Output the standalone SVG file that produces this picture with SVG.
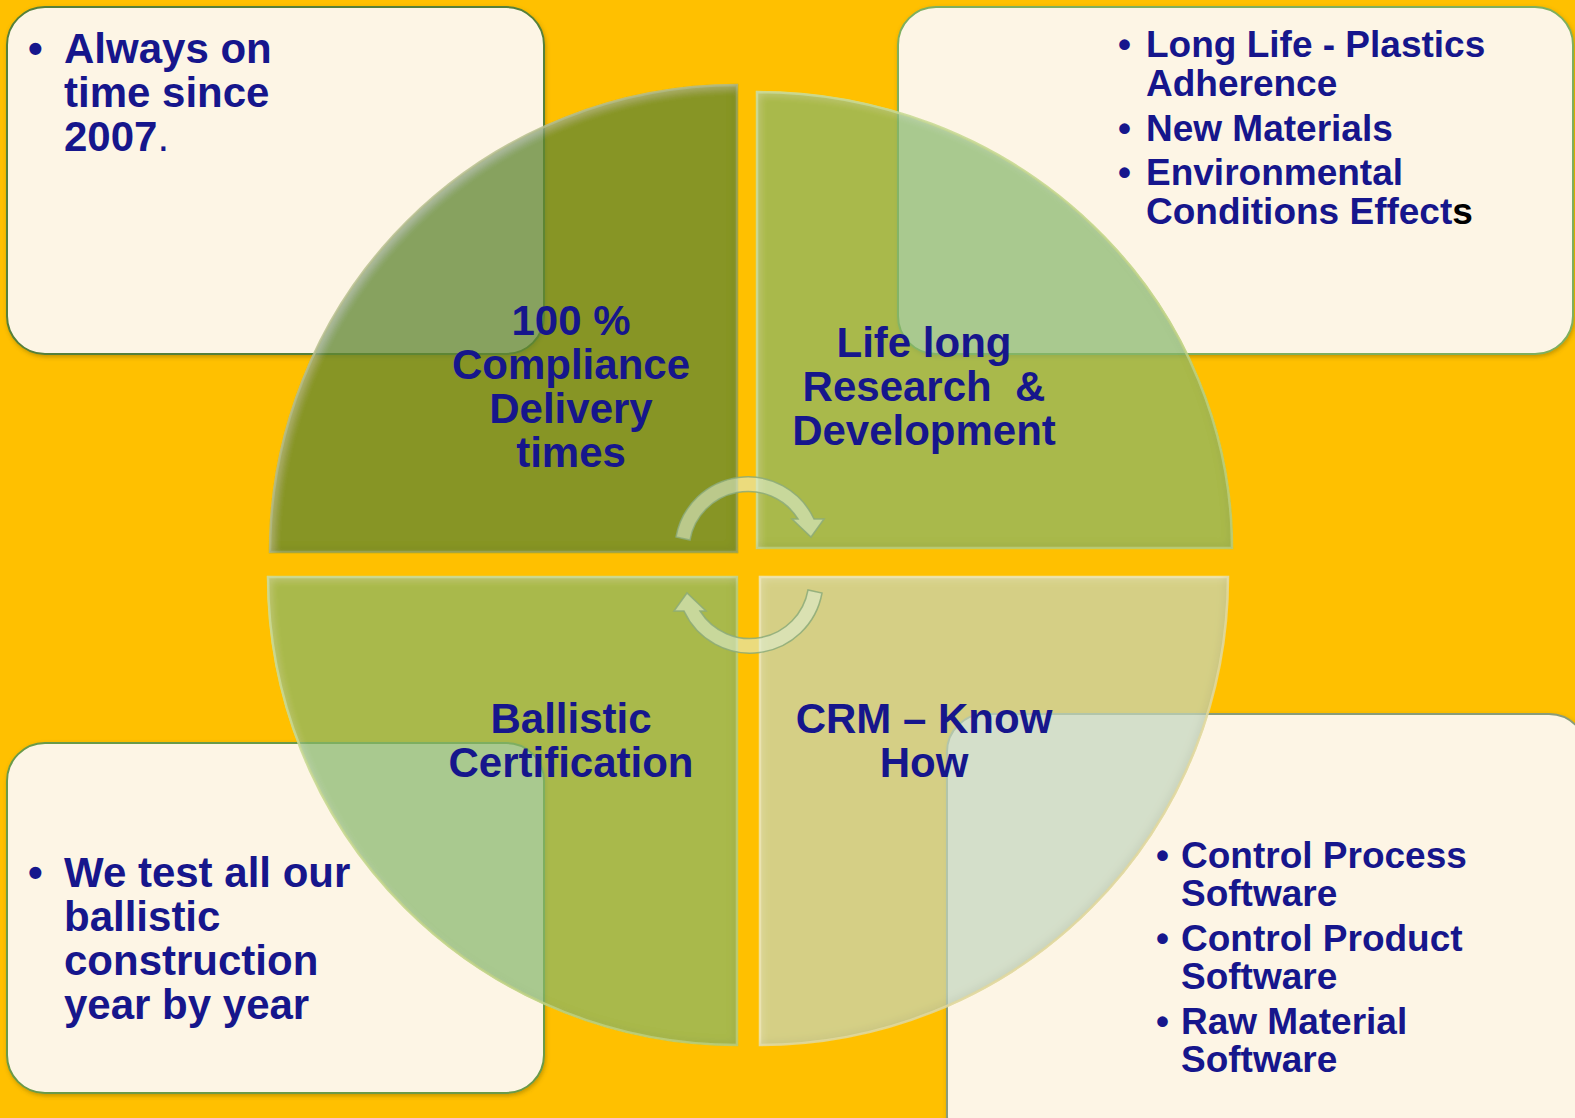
<svg xmlns="http://www.w3.org/2000/svg" width="1575" height="1118" viewBox="0 0 1575 1118">
  <style>
    text { font-family: "Liberation Sans", Arial, sans-serif; font-weight: bold; fill: #16168C; }
    .q { font-size: 42px; text-anchor: middle; }
    .b42 { font-size: 42px; }
    .b37 { font-size: 37px; }
    .box { fill: #FDF5E5; stroke-width: 2; filter: url(#sh); }
    .quad { stroke-width: 2.5; filter: url(#bevel); }
    .arrow { fill: rgba(222,236,208,0.6); stroke: rgba(140,170,120,0.85); stroke-width: 1.5; }
  </style>
  <defs>
    <filter id="sh" x="-5%" y="-5%" width="110%" height="112%">
      <feDropShadow dx="1" dy="2" stdDeviation="2" flood-color="#5a4a00" flood-opacity="0.35"/>
    </filter>
    <filter id="bevel" x="-2%" y="-2%" width="104%" height="104%">
      <feGaussianBlur in="SourceAlpha" stdDeviation="5" result="b"/>
      <feOffset in="b" dx="4" dy="4" result="bo"/>
      <feComposite in="SourceAlpha" in2="bo" operator="arithmetic" k2="1" k3="-1" result="hl"/>
      <feOffset in="b" dx="-4" dy="-4" result="bo2"/>
      <feComposite in="SourceAlpha" in2="bo2" operator="arithmetic" k2="1" k3="-1" result="sd"/>
      <feFlood flood-color="#ffffff" flood-opacity="0.3"/>
      <feComposite in2="hl" operator="in" result="hl2"/>
      <feFlood flood-color="#3a3000" flood-opacity="0.2"/>
      <feComposite in2="sd" operator="in" result="sd2"/>
      <feMerge><feMergeNode in="SourceGraphic"/><feMergeNode in="hl2"/><feMergeNode in="sd2"/></feMerge>
    </filter>
  </defs>
  <rect x="0" y="0" width="1575" height="1118" fill="#FFC000"/>

  <g id="box-tl">
    <rect class="box" x="7" y="7" width="537" height="347" rx="38" stroke="#55803A"/>
    <text class="b42"><tspan x="28" y="63">•</tspan><tspan x="64" y="63">Always on</tspan><tspan x="64" y="107">time since</tspan><tspan x="64" y="151">2007<tspan font-weight="normal">.</tspan></tspan></text>
  </g>
  <g id="box-tr">
    <rect class="box" x="898" y="7" width="675" height="347" rx="38" stroke="#7EAF5E"/>
    <text class="b37"><tspan x="1118" y="57">•</tspan><tspan x="1146" y="57">Long Life - Plastics</tspan><tspan x="1146" y="96">Adherence</tspan><tspan x="1118" y="141">•</tspan><tspan x="1146" y="141">New Materials</tspan><tspan x="1118" y="185">•</tspan><tspan x="1146" y="185">Environmental</tspan><tspan x="1146" y="224">Conditions Effect<tspan fill="#000000">s</tspan></tspan></text>
  </g>
  <g id="box-bl">
    <rect class="box" x="7" y="743" width="537" height="350" rx="38" stroke="#6A9A4A"/>
    <text class="b42"><tspan x="28" y="887">•</tspan><tspan x="64" y="887">We test all our</tspan><tspan x="64" y="931">ballistic</tspan><tspan x="64" y="975">construction</tspan><tspan x="64" y="1019">year by year</tspan></text>
  </g>
  <g id="box-br">
    <rect class="box" x="947" y="714" width="640" height="440" rx="38" stroke="#8A9C7A"/>
    <text class="b37"><tspan x="1156" y="868">•</tspan><tspan x="1181" y="868">Control Process</tspan><tspan x="1181" y="906">Software</tspan><tspan x="1156" y="951">•</tspan><tspan x="1181" y="951">Control Product</tspan><tspan x="1181" y="989">Software</tspan><tspan x="1156" y="1034">•</tspan><tspan x="1181" y="1034">Raw Material</tspan><tspan x="1181" y="1072">Software</tspan></text>
  </g>

  <g id="quad-tl">
    <path class="quad" d="M737,552 L270,552 A467,467 0 0 1 737,85 Z" fill="rgba(95,135,49,0.75)" stroke="rgba(150,165,60,0.8)"/>
    <text class="q"><tspan x="571" y="335">100 %</tspan><tspan x="571" y="379">Compliance</tspan><tspan x="571" y="423">Delivery</tspan><tspan x="571" y="467">times</tspan></text>
  </g>
  <g id="quad-tr">
    <path class="quad" d="M757,548 L757,92 A475,456 0 0 1 1232,548 Z" fill="rgba(132,183,107,0.7)" stroke="rgba(190,215,110,0.85)"/>
    <text class="q" xml:space="preserve"><tspan x="924" y="357">Life long</tspan><tspan x="924" y="401">Research  &amp;</tspan><tspan x="924" y="445">Development</tspan></text>
  </g>
  <g id="quad-bl">
    <path class="quad" d="M737,577 L737,1045 A469,468 0 0 1 268,577 Z" fill="rgba(132,183,107,0.7)" stroke="rgba(190,215,110,0.85)"/>
    <text class="q"><tspan x="571" y="733">Ballistic</tspan><tspan x="571" y="777">Certification</tspan></text>
  </g>
  <g id="quad-br">
    <path class="quad" d="M760,577 L1228,577 A468,468 0 0 1 760,1045 Z" fill="rgba(195,213,190,0.7)" stroke="rgba(240,230,160,0.85)"/>
    <text class="q"><tspan x="924" y="733">CRM – Know</tspan><tspan x="924" y="777">How</tspan></text>
  </g>

  <g id="connectors">
    <path class="arrow" d="M676,537 A73,73 0 0 1 814,519 L824,519 L811,537 L792,519 L798,519 A59,59 0 0 0 690,540 Z"/>
    <path class="arrow" d="M676,537 A73,73 0 0 1 814,519 L824,519 L811,537 L792,519 L798,519 A59,59 0 0 0 690,540 Z" transform="rotate(180 749 565)"/>
  </g>
</svg>
